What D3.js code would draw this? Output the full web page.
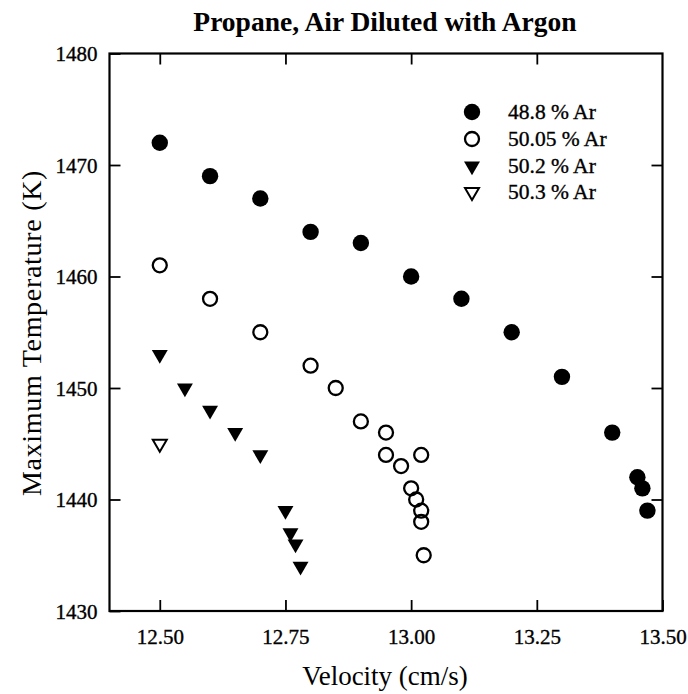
<!DOCTYPE html>
<html>
<head>
<meta charset="utf-8">
<script src="https://cdn.jsdelivr.net/npm/d3@7/dist/d3.min.js"></script>
<style>
  html, body { margin: 0; padding: 0; background: #fff; }
  svg { display: block; }
  text { font-family: "Liberation Serif", "Times New Roman", serif; fill: #000; }
</style>
</head>
<body>
<script>
// ---- data ----
const xTicks = [12.50, 12.75, 13.00, 13.25, 13.50];
const yTicks = [1430, 1440, 1450, 1460, 1470, 1480];

const series48Vel  = [12.50, 12.60, 12.70, 12.80, 12.90, 13.00, 13.10, 13.20, 13.30, 13.40, 13.45, 13.46, 13.47];
const series48Temp = [1472, 1469, 1467, 1464, 1463, 1460, 1458, 1455, 1451, 1446, 1442, 1441, 1439];

const series5005Vel  = [12.50, 12.60, 12.70, 12.80, 12.85, 12.90, 12.95, 12.95, 12.98, 13.02, 13.00, 13.01, 13.02, 13.02, 13.025];
const series5005Temp = [1461, 1458, 1455, 1452, 1450, 1447, 1446, 1444, 1443, 1444, 1441, 1440, 1439, 1438, 1435];

const series502Vel  = [12.50, 12.55, 12.60, 12.65, 12.70, 12.75, 12.76, 12.77, 12.78];
const series502Temp = [1453, 1450, 1448, 1446, 1444, 1439, 1437, 1436, 1434];

const series503Vel  = [12.50];
const series503Temp = [1445];

const legendLabels = ["48.8 % Ar", "50.05 % Ar", "50.2 % Ar", "50.3 % Ar"];

// ---- layout ----
const W = 688, H = 694;
const pLeft = 109.5, pRight = 662.5, pTop = 53.5, pBottom = 611;

const svg = d3.select("body").append("svg").attr("width", W).attr("height", H);

const x = d3.scaleLinear().domain([12.4, 13.5]).range([pLeft, pRight]);
const y = d3.scaleLinear().domain([1430, 1480]).range([pBottom, pTop]);

const tickLen = 11;

const gx = svg.append("g").attr("transform", `translate(0,${pBottom})`)
  .call(d3.axisBottom(x).tickValues(xTicks).tickFormat(d3.format(".2f"))
        .tickSizeInner(-tickLen).tickSizeOuter(0).tickPadding(18));
const gxt = svg.append("g").attr("transform", `translate(0,${pTop})`)
  .call(d3.axisTop(x).tickValues(xTicks.filter(d => d < 13.5)).tickFormat("")
        .tickSizeInner(-tickLen).tickSizeOuter(0));
const gy = svg.append("g").attr("transform", `translate(${pLeft},0)`)
  .call(d3.axisLeft(y).tickValues(yTicks).tickFormat(d3.format("d"))
        .tickSizeInner(-tickLen).tickSizeOuter(0).tickPadding(12));
const gyr = svg.append("g").attr("transform", `translate(${pRight},0)`)
  .call(d3.axisRight(y).tickValues(yTicks.filter(d => d > 1430 && d < 1480)).tickFormat("")
        .tickSizeInner(-tickLen).tickSizeOuter(0));

[gx, gxt, gy, gyr].forEach(g => {
  g.select(".domain").remove();
  g.selectAll(".tick line").attr("stroke", "#000").attr("stroke-width", 1.8);
  g.selectAll(".tick text").attr("font-family", "Liberation Serif, serif")
    .attr("font-size", 21).attr("fill", "#000")
    .attr("stroke", "#000").attr("stroke-width", 0.35);
});
gy.selectAll(".tick text").attr("dy", "0.34em");

svg.append("rect")
  .attr("x", pLeft).attr("y", pTop)
  .attr("width", pRight - pLeft).attr("height", pBottom - pTop)
  .attr("fill", "none").attr("stroke", "#000").attr("stroke-width", 2.2);

// ---- marks ----
const triDown = d3.symbol().type(d3.symbolTriangle).size(110);
const triOpen = d3.symbol().type(d3.symbolTriangle).size(85);

function toPts(vx, vy) { return vx.map((v, i) => ({ v: v, t: vy[i] })); }

svg.append("g").selectAll("circle").data(toPts(series48Vel, series48Temp)).join("circle")
  .attr("cx", d => x(d.v)).attr("cy", d => y(d.t)).attr("r", 8.2).attr("fill", "#000");

svg.append("g").selectAll("circle").data(toPts(series5005Vel, series5005Temp)).join("circle")
  .attr("cx", d => x(d.v)).attr("cy", d => y(d.t)).attr("r", 7).attr("fill", "none")
  .attr("stroke", "#000").attr("stroke-width", 2.3);

svg.append("g").selectAll("path").data(toPts(series502Vel, series502Temp)).join("path")
  .attr("d", triDown)
  .attr("transform", d => `translate(${x(d.v)},${y(d.t)}) rotate(180)`)
  .attr("fill", "#000");

svg.append("g").selectAll("path").data(toPts(series503Vel, series503Temp)).join("path")
  .attr("d", triOpen)
  .attr("transform", d => `translate(${x(d.v)},${y(d.t)}) rotate(180)`)
  .attr("fill", "none").attr("stroke", "#000").attr("stroke-width", 2);

// ---- legend ----
const legY = [112, 139, 166, 192];
const legX = 472;
const lg = svg.append("g");
legendLabels.forEach((lab, i) => {
  const cy = legY[i];
  if (i === 0) lg.append("circle").attr("cx", legX).attr("cy", cy).attr("r", 8.2).attr("fill", "#000");
  if (i === 1) lg.append("circle").attr("cx", legX).attr("cy", cy).attr("r", 7).attr("fill", "none").attr("stroke", "#000").attr("stroke-width", 2.3);
  if (i === 2) lg.append("path").attr("d", triDown).attr("transform", `translate(${legX},${cy}) rotate(180)`).attr("fill", "#000");
  if (i === 3) lg.append("path").attr("d", triOpen).attr("transform", `translate(${legX},${cy}) rotate(180)`).attr("fill", "none").attr("stroke", "#000").attr("stroke-width", 2);
  lg.append("text").attr("x", 508).attr("y", cy + 6.5).attr("font-size", 21.5)
    .attr("stroke", "#000").attr("stroke-width", 0.35).text(lab);
});

// ---- titles ----
svg.append("text").attr("x", 385).attr("y", 31).attr("text-anchor", "middle")
  .attr("font-size", 27.5).attr("font-weight", "bold").text("Propane, Air Diluted with Argon");

svg.append("text").attr("x", 385).attr("y", 685).attr("text-anchor", "middle")
  .attr("font-size", 27).text("Velocity (cm/s)");

svg.append("text").attr("transform", `translate(41,333) rotate(-90)`)
  .attr("text-anchor", "middle").attr("font-size", 28).attr("letter-spacing", 0.7)
  .text("Maximum Temperature (K)");
</script>
</body>
</html>
